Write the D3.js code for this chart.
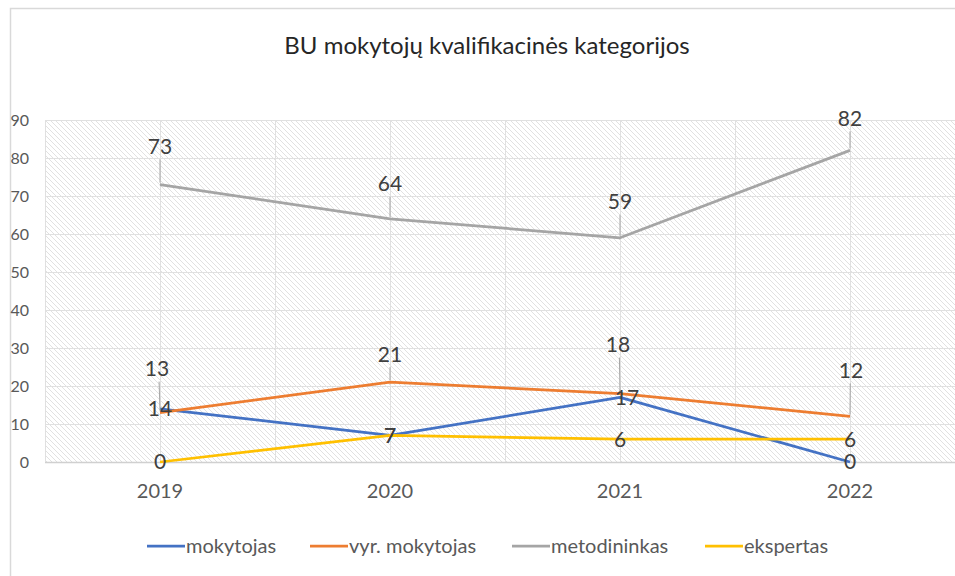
<!DOCTYPE html>
<html>
<head>
<meta charset="utf-8">
<script src="https://cdn.jsdelivr.net/npm/d3@7"></script>
<style>
  body { margin: 0; background: #fff; }
  text { font-family: Lato, "Open Sans", sans-serif; }
</style>
</head>
<body>
<script>
const years = ["2019", "2020", "2021", "2022"];
const seriesNames = ["mokytojas", "vyr. mokytojas", "metodininkas", "ekspertas"];
const mokytojas = [14, 7, 17, 0];
const vyrMokytojas = [13, 21, 18, 12];
const metodininkas = [73, 64, 59, 82];
const ekspertas = [0, 7, 6, 6];
const yTicks = [0, 10, 20, 30, 40, 50, 60, 70, 80, 90];

const colors = ["#4472C4", "#ED7D31", "#A5A5A5", "#FFC000"];
// label offsets (dx, dy) relative to each point, and leader line flag
const labelPlacement = [
  [[0, 0, false], [0, 0, false], [7, 0, false], [0, 0, false]],
  [[-3, -44, true], [0, -28, true], [-2, -49, true], [1, -46, true]],
  [[0, -38, true], [0, -35, true], [0, -36, true], [0, -32, true]],
  [[0, 0, false], [0, 0, false], [0, 0, false], [0, 0, false]],
];

const W = 955, H = 576;
const plot = { left: 45, right: 965, top: 120, bottom: 462 };

const svg = d3.select("body").append("svg").attr("width", W).attr("height", H);

const defs = svg.append("defs");
const pat = defs.append("pattern")
  .attr("id", "hatch")
  .attr("patternUnits", "userSpaceOnUse")
  .attr("width", 5).attr("height", 5);
pat.append("path")
  .attr("d", "M-1,-1 L6,6 M-1,4 L1,6 M4,-1 L6,1")
  .attr("stroke", "#dedede").attr("stroke-width", 0.9);

// chart frame
svg.append("rect")
  .attr("x", 10.5).attr("y", 8.5)
  .attr("width", W + 20).attr("height", H + 20)
  .attr("fill", "#fff").attr("stroke", "#d9d9d9").attr("stroke-width", 1.5);

const x = d3.scaleBand().domain(years).range([plot.left, plot.right]).padding(0);
const cx = (d) => x(d) + x.bandwidth() / 2;
const y = d3.scaleLinear().domain([0, 90]).range([plot.bottom, plot.top]);

// hatched plot background
svg.append("rect")
  .attr("x", plot.left).attr("y", plot.top)
  .attr("width", plot.right - plot.left).attr("height", plot.bottom - plot.top)
  .attr("fill", "url(#hatch)");

// horizontal gridlines
svg.append("g")
  .selectAll("line")
  .data(yTicks)
  .join("line")
  .attr("x1", plot.left).attr("x2", plot.right)
  .attr("y1", (d) => Math.round(y(d)) + 0.5).attr("y2", (d) => Math.round(y(d)) + 0.5)
  .attr("stroke", (d) => (d === 0 ? "#d0d0d0" : "#e0e0e0"))
  .attr("stroke-width", (d) => (d === 0 ? 1.5 : 1));

// vertical gridlines at band edges and centers
const vLines = [];
years.forEach((yr) => { vLines.push(x(yr)); vLines.push(cx(yr)); });
vLines.push(plot.right);
svg.append("g")
  .selectAll("line")
  .data(vLines)
  .join("line")
  .attr("x1", (d) => Math.round(d) + 0.5).attr("x2", (d) => Math.round(d) + 0.5)
  .attr("y1", plot.top).attr("y2", plot.bottom)
  .attr("stroke", "#e0e0e0");

// y axis labels
svg.append("g")
  .selectAll("text")
  .data(yTicks)
  .join("text")
  .attr("x", 29).attr("y", (d) => y(d))
  .attr("dy", "0.35em")
  .attr("text-anchor", "end")
  .attr("fill", "#595959")
  .attr("font-size", 16)
  .text((d) => d);

// x axis labels
svg.append("g")
  .selectAll("text")
  .data(years)
  .join("text")
  .attr("x", (d) => cx(d)).attr("y", 491)
  .attr("dy", "0.35em")
  .attr("text-anchor", "middle")
  .attr("fill", "#595959")
  .attr("font-size", 20)
  .text((d) => d);

// title
svg.append("text")
  .attr("x", 487).attr("y", 46)
  .attr("dy", "0.35em")
  .attr("text-anchor", "middle")
  .attr("fill", "#262626")
  .attr("font-size", 24)
  .text("BU mokytojų kvalifikacinės kategorijos");

const allSeries = [mokytojas, vyrMokytojas, metodininkas, ekspertas];
const line = d3.line().x((d, i) => cx(years[i])).y((d) => y(d));

allSeries.forEach((vals, s) => {
  svg.append("path")
    .datum(vals)
    .attr("fill", "none")
    .attr("stroke", colors[s])
    .attr("stroke-width", 2.75)
    .attr("stroke-linejoin", "round")
    .attr("d", line);
});

// data labels
allSeries.forEach((vals, s) => {
  const g = svg.append("g");
  vals.forEach((v, i) => {
    const [dx, dy, leader] = labelPlacement[s][i];
    const px = cx(years[i]), py = y(v);
    if (leader) {
      g.append("line")
        .attr("x1", px).attr("y1", py - 2)
        .attr("x2", px + dx * 0.3).attr("y2", py + dy + 13)
        .attr("stroke", "#a6a6a6").attr("stroke-width", 1);
    }
    g.append("text")
      .attr("x", px + dx).attr("y", py + dy)
      .attr("dy", "0.35em")
      .attr("text-anchor", "middle")
      .attr("fill", "#404040")
      .attr("font-size", 21)
      .text(v);
  });
});

// legend
const legendX = [147, 310, 512, 705];
const legend = svg.append("g");
seriesNames.forEach((name, s) => {
  legend.append("line")
    .attr("x1", legendX[s]).attr("x2", legendX[s] + 38)
    .attr("y1", 546).attr("y2", 546)
    .attr("stroke", colors[s]).attr("stroke-width", 2.75);
  legend.append("text")
    .attr("x", legendX[s] + 39).attr("y", 546)
    .attr("dy", "0.35em")
    .attr("fill", "#595959")
    .attr("font-size", 20)
    .text(name);
});
</script>
</body>
</html>
